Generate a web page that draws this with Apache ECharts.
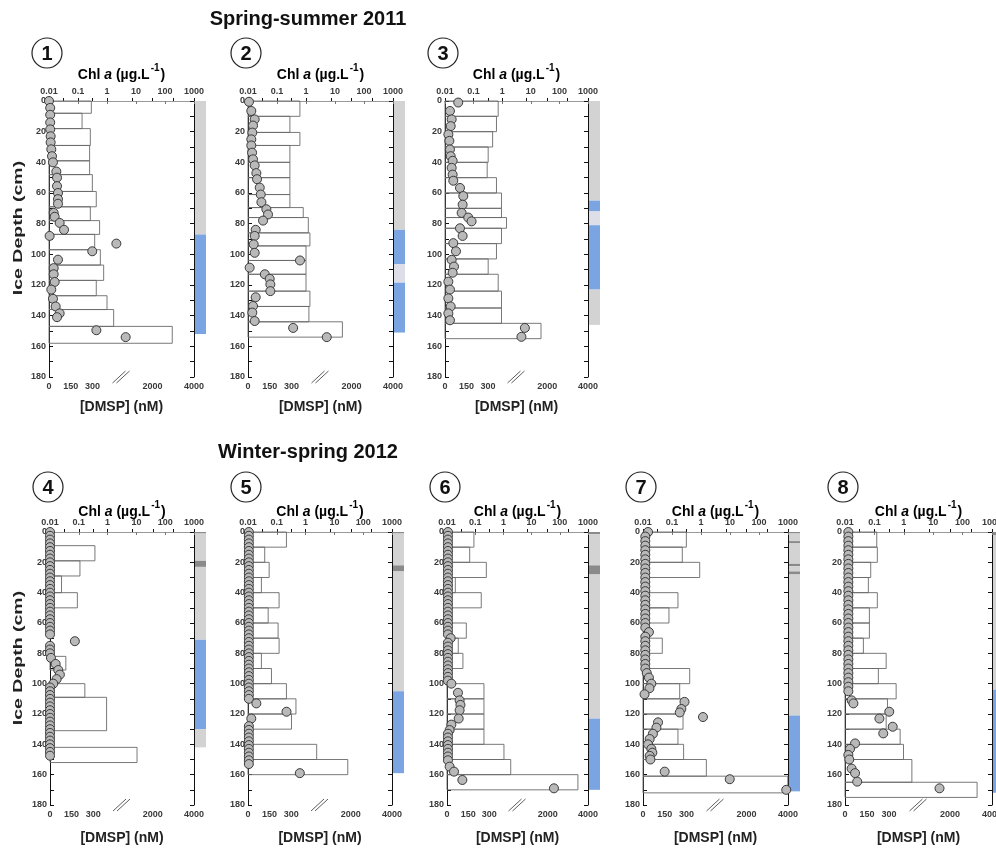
<!DOCTYPE html>
<html><head><meta charset="utf-8">
<script src="https://cdn.jsdelivr.net/npm/echarts@6/dist/echarts.min.js"></script>
<style>html,body{margin:0;padding:0;background:#fff}#c{width:996px;height:850px}</style>
</head><body><div id="c"></div>
<script>
// ================= DATA =================
const titles = ['Spring-summer 2011', 'Winter-spring 2012'];
const panelNumbers = ['1','2','3','4','5','6','7','8'];
const dmspLabelValues = [0, 150, 300, 2000, 4000];
const dmspTickValues = [0, 100, 200, 300, 400, 1000, 2000, 3000, 4000];
const dmspBreakValue = [500];
const depthMax = 180;

// Panel 1
const p1Depth = [0,4.5,9,14,18.5,23,27,31.5,36,40,46,50,55.5,60,64,67,73,75.5,79.5,84,88,93,98,103.5,109,113,118,123,129,134,138.5,141,149.5,154];
const p1Chl = [0.01,0.011,0.011,0.011,0.011,0.0114,0.0114,0.012,0.0127,0.0137,0.0179,0.0189,0.0189,0.0204,0.0204,0.0204,0.0145,0.0157,0.0233,0.033,0.0105,2.1,0.31,0.0204,0.0145,0.0145,0.0157,0.012,0.0137,0.017,0.0233,0.0189,0.43,4.4];
const p1SecTop = [0,8,18,29,39,48,59,69,78,87,97,107,117,127,136,147];
const p1SecBot = [8,18,29,39,48,59,69,78,87,97,107,117,127,136,147,158];
const p1Dmsp = [292,228,285,280,280,299,326,285,349,315,354,377,326,400,446,2950];
const p1IceTop = [0,87];
const p1IceBot = [87,152];
const p1IceType = ['granular','columnar'];

// Panel 2
const p2Depth = [0.5,6.5,12,16,20.6,25,29,33.7,38,42,47,51,56.5,61,66,70.6,74,78,84,88,93.5,99,104,108.7,113,116,119.6,124,128,133.7,138,143.5,148,154];
const p2Chl = [0.0108,0.013,0.017,0.0149,0.0141,0.013,0.013,0.0138,0.0149,0.017,0.0194,0.0205,0.0254,0.0275,0.029,0.043,0.049,0.033,0.0184,0.017,0.0157,0.017,0.62,0.0114,0.038,0.056,0.059,0.059,0.0184,0.0149,0.0141,0.017,0.36,5.2];
const p2SecTop = [0,10,20.5,29,40,50,61,69.5,76,86,94.5,104,113,124,134,144];
const p2SecBot = [10,20.5,29,40,50,61,69.5,76,86,94.5,104,113,124,134,144,154];
const p2Dmsp = [358,289,358,289,289,289,289,381,416,427,400,400,400,427,420,1557];
const p2IceTop = [0,84,106.5,118.5];
const p2IceBot = [84,106.5,118.5,151];
const p2IceType = ['granular','columnar','mixed','columnar'];

// Panel 3
const p3Depth = [1,6.5,12,16.4,21.8,26,31.6,36,39,43.6,48,52,56.7,62,67.6,73,76,78.5,83,88,92.7,98,103.6,108,112,117.8,123,128.7,134,138.5,143,148,153.8];
const p3Chl = [0.029,0.0149,0.0171,0.0158,0.0131,0.0142,0.0149,0.0158,0.0185,0.0171,0.0185,0.0195,0.0334,0.0436,0.0413,0.0382,0.065,0.085,0.0334,0.0413,0.0195,0.0242,0.0171,0.0206,0.0185,0.0131,0.0149,0.0131,0.0158,0.0131,0.0149,6.2,4.7];
const p3SecTop = [0,10,20,30,40,50,60,70,76,83,93,103,113,124,135,145];
const p3SecBot = [10,20,30,40,50,60,70,76,83,93,103,113,124,135,145,155];
const p3Dmsp = [372,360,333,302,295,360,395,395,430,395,360,302,372,395,395,1700];
const p3IceTop = [0,65,72,81,123];
const p3IceBot = [65,72,81,123,146];
const p3IceType = ['granular','columnar','mixed','columnar','granular'];

// Panel 4
const p4Depth = [0,2.5,5,7.5,10,12.5,15,17.5,20,22.5,25,27.5,30,32.5,35,37.5,40,42.5,45,47.5,50,52.5,55,57.5,60,62.5,65,67.5,72,75,77.5,80,83,87,91,94,97,100,102.5,105,107.5,110,112.5,115,117.5,120,122.5,125,127.5,130,132.5,135,137.5,140,142.5,145,147.5];
const p4Chl = [0.01,0.01,0.01,0.01,0.01,0.01,0.01,0.01,0.01,0.01,0.01,0.01,0.01,0.01,0.01,0.01,0.01,0.01,0.01,0.01,0.01,0.01,0.01,0.01,0.01,0.01,0.01,0.01,0.073,0.01,0.01,0.01,0.0108,0.0157,0.0194,0.022,0.017,0.013,0.01,0.01,0.01,0.01,0.01,0.01,0.01,0.01,0.01,0.01,0.01,0.01,0.01,0.01,0.01,0.01,0.01,0.01,0.01];
const p4SecTop = [9,19,29,40,82,100,109,142];
const p4SecBot = [19,29,40,50,91,109,131,152];
const p4Dmsp = [312,208,80,190,110,242,393,1230];
const p4IceTop = [0,1,19,23,71,130];
const p4IceBot = [1,19,23,71,130,142];
const p4IceType = ['dark','granular','dark','granular','columnar','granular'];

// Panel 5
const p5Depth = [0,2.5,5,7.5,10,12.5,15,17.5,20,22.5,25,27.5,30,32.5,35,37.5,40,42.5,45,47.5,50,52.5,55,57.5,60,62.5,65,67.5,70,72.5,75,77.5,80,82.5,85,87.5,90,92.5,95,97.5,100,102.5,105,107.5,110,113,118.5,123,128,130.5,133,135.5,138,140.5,143,145.5,148,150.5,153,159];
const p5Chl = [0.0107,0.0107,0.0107,0.0107,0.0107,0.0107,0.0107,0.0107,0.0107,0.0107,0.0107,0.0107,0.0107,0.0107,0.0107,0.0107,0.0107,0.0107,0.0107,0.0107,0.0107,0.0107,0.0107,0.0107,0.0107,0.0107,0.0107,0.0107,0.0107,0.0107,0.0107,0.0107,0.0107,0.0107,0.0107,0.0107,0.0107,0.0107,0.0107,0.0107,0.0107,0.0107,0.0107,0.0107,0.0107,0.0195,0.217,0.013,0.0107,0.0107,0.0107,0.0107,0.0107,0.0107,0.0107,0.0107,0.0107,0.0107,0.0107,0.63];
const p5SecTop = [0,10,20,30,40,50,60,70,80,90,100,110,120,140,150];
const p5SecBot = [10,20,30,40,50,60,70,80,90,100,110,120,130,150,160];
const p5Dmsp = [267,116,147,93,216,140,209,216,93,163,267,333,302,477,1850];
const p5IceTop = [0,1,22,26,105];
const p5IceBot = [1,22,26,105,159];
const p5IceType = ['dark','granular','dark','granular','columnar'];

// Panel 6
const p6Depth = [0,2.5,5,7.5,10,12.5,15,17.5,20,22.5,25,27.5,30,32.5,35,37.5,40,42.5,45,47.5,50,52.5,55,57.5,60,62.5,65,67.5,70,73,75.5,78,80.5,83,85.5,88,90.5,93,95.5,98,100,106,111,114,117.5,123,127,130.6,133,135.5,138,140.5,143,145.5,148,150.5,154.7,158,163.5,169];
const p6Chl = [0.0108,0.0108,0.0108,0.0108,0.0108,0.0108,0.0108,0.0108,0.0108,0.0108,0.0108,0.0108,0.0108,0.0108,0.0108,0.0108,0.0108,0.0108,0.0108,0.0108,0.0108,0.0108,0.0108,0.0108,0.0108,0.0108,0.0108,0.0108,0.0135,0.0108,0.0108,0.0108,0.0108,0.0108,0.0108,0.0108,0.0108,0.0108,0.0108,0.0108,0.0143,0.0245,0.028,0.03,0.028,0.026,0.0143,0.0124,0.0108,0.0108,0.0108,0.0108,0.0108,0.0108,0.0108,0.0108,0.0124,0.0177,0.035,62];
const p6SecTop = [0,10,20,30,40,60,70,80,100,110,120,130,140,150,160];
const p6SecBot = [10,20,30,40,50,70,80,90,110,120,130,140,150,160,170];
const p6Dmsp = [191,161,279,59,243,137,80,113,262,262,262,262,404,452,3500];
const p6IceTop = [0,1.5,22,28,123];
const p6IceBot = [1.5,22,28,123,170];
const p6IceType = ['dark','granular','dark','granular','columnar'];

// Panel 7
const p7Depth = [0,3,6,9,12,15,18,21,24,27,30,33,36,39,42,45,48,51,54,57,60,63,66,69,72,75,78,81,84,87,90,93,96,100,103,107,112,116.7,119,122,125.5,129,133,136.5,140,143,145.5,147.6,150,158,163,170];
const p7Chl = [0.0149,0.012,0.012,0.012,0.012,0.012,0.012,0.012,0.012,0.012,0.012,0.012,0.012,0.012,0.012,0.012,0.012,0.012,0.012,0.012,0.012,0.012,0.016,0.012,0.012,0.012,0.012,0.012,0.012,0.012,0.012,0.0135,0.016,0.0194,0.0167,0.0113,0.27,0.21,0.185,1.17,0.033,0.029,0.022,0.017,0.0149,0.0194,0.021,0.017,0.018,0.056,9.8,870];
const p7SecTop = [0,10,20,40,50,70,90,100,110,120,130,140,150,161];
const p7SecBot = [10,20,30,50,60,80,100,110,120,130,140,150,161,172];
const p7Dmsp = [299,271,391,241,179,133,322,253,276,276,241,280,437,3990];
const p7IceTop = [0,1,6,7.5,21,22.5,26,28,121];
const p7IceBot = [1,6,7.5,21,22.5,26,28,121,171];
const p7IceType = ['dark','granular','dark','granular','dark','granular','dark','granular','columnar'];

// Panel 8
const p8Depth = [0,3,6,9,12,15,18,21,24,27,30,33,36,39,42,45,48,51,54,57,60,63,66,69,72,75,78,81,84,87,90,93,96,99,102,105,111,113,118.5,123,128.4,132.8,139.4,143,147,150,156,159,164.6,169];
const p8Chl = [0.013,0.013,0.013,0.013,0.013,0.013,0.013,0.013,0.013,0.013,0.013,0.013,0.013,0.013,0.013,0.013,0.013,0.013,0.013,0.013,0.013,0.013,0.013,0.013,0.013,0.013,0.013,0.013,0.013,0.013,0.013,0.013,0.013,0.013,0.013,0.013,0.0168,0.0193,0.32,0.148,0.42,0.2,0.022,0.0148,0.013,0.014,0.0168,0.022,0.026,16.4];
const p8SecTop = [0,10,20,30,40,50,60,70,80,90,100,110,120,130,140,150,165];
const p8SecBot = [10,20,30,40,50,60,70,80,90,100,110,120,130,140,150,165,175];
const p8Dmsp = [216,220,175,159,220,166,166,125,280,227,348,289,280,375,398,455,3290];
const p8IceTop = [0,2,104];
const p8IceBot = [2,104,172];
const p8IceType = ['dark','granular','columnar'];

// ================= LAYOUT / STYLE =================
const FONT = "'Liberation Sans', Arial, Helvetica, sans-serif";
const iceColors = {granular:'#d3d3d3', columnar:'#7ba4e2', dark:'#8a8a8a', mixed:'#dedee8'};
const layout = [
  {l:49,  r:194, t:101, b:377, row:0},
  {l:248, r:393, t:101, b:377, row:0},
  {l:445, r:588, t:101, b:377, row:0},
  {l:50,  r:194, t:532, b:805, row:1},
  {l:248, r:392, t:532, b:805, row:1},
  {l:447, r:588, t:532, b:805, row:1},
  {l:643, r:788, t:532, b:805, row:1},
  {l:845, r:992, t:532, b:805, row:1}
];
const rowText = [
  {title:19, circle:53, chl:75, dmsp:407, depthY:228},
  {title:452, circle:487, chl:512, dmsp:838, depthY:658}
];

const panels = [
  {depth:p1Depth, chl:p1Chl, secTop:p1SecTop, secBot:p1SecBot, dmsp:p1Dmsp, iceTop:p1IceTop, iceBot:p1IceBot, iceType:p1IceType},
  {depth:p2Depth, chl:p2Chl, secTop:p2SecTop, secBot:p2SecBot, dmsp:p2Dmsp, iceTop:p2IceTop, iceBot:p2IceBot, iceType:p2IceType},
  {depth:p3Depth, chl:p3Chl, secTop:p3SecTop, secBot:p3SecBot, dmsp:p3Dmsp, iceTop:p3IceTop, iceBot:p3IceBot, iceType:p3IceType},
  {depth:p4Depth, chl:p4Chl, secTop:p4SecTop, secBot:p4SecBot, dmsp:p4Dmsp, iceTop:p4IceTop, iceBot:p4IceBot, iceType:p4IceType},
  {depth:p5Depth, chl:p5Chl, secTop:p5SecTop, secBot:p5SecBot, dmsp:p5Dmsp, iceTop:p5IceTop, iceBot:p5IceBot, iceType:p5IceType},
  {depth:p6Depth, chl:p6Chl, secTop:p6SecTop, secBot:p6SecBot, dmsp:p6Dmsp, iceTop:p6IceTop, iceBot:p6IceBot, iceType:p6IceType},
  {depth:p7Depth, chl:p7Chl, secTop:p7SecTop, secBot:p7SecBot, dmsp:p7Dmsp, iceTop:p7IceTop, iceBot:p7IceBot, iceType:p7IceType},
  {depth:p8Depth, chl:p8Chl, secTop:p8SecTop, secBot:p8SecBot, dmsp:p8Dmsp, iceTop:p8IceTop, iceBot:p8IceBot, iceType:p8IceType}
];

// broken DMSP axis: linear 0-500 on first half, 500-4000 on second half
function dmspPos(v) { return v <= 500 ? v : 500 + (v - 500) / 7; }
function dmspInv(p) { return Math.round(p <= 500 ? p : 500 + (p - 500) * 7); }
function fmtLog(v) { return v >= 1 ? String(Math.round(v)) : String(parseFloat(Number(v).toPrecision(2))); }

const labelStyle = {fontSize:9, fontWeight:'bold', color:'#3a3a3a', fontFamily:FONT};

const grids = [], xAxes = [], yAxes = [], series = [], graphics = [];

panels.forEach((pd, i) => {
  const L = layout[i];
  const gMain = grids.length;
  grids.push({left:L.l, top:L.t, width:L.r - L.l, height:L.b - L.t, containLabel:false, outerBoundsMode:'none'});
  const gBar = grids.length;
  grids.push({left:L.r + 1, top:L.t, width:11, height:L.b - L.t, containLabel:false, outerBoundsMode:'none'});

  const xD = xAxes.length;
  xAxes.push({
    type:'value', gridIndex:gMain, position:'bottom', min:0, max:1000,
    axisLine:{show:true, lineStyle:{color:'#111', width:1}},
    axisTick:{show:true, inside:true, length:3, customValues:dmspTickValues.map(dmspPos), lineStyle:{color:'#111'}},
    axisLabel:Object.assign({customValues:dmspLabelValues.map(dmspPos), formatter:v => String(dmspInv(v)), margin:5}, labelStyle),
    splitLine:{show:false}
  });
  const xL = xAxes.length;
  xAxes.push({
    type:'log', logBase:10, gridIndex:gMain, position:'top', min:0.01, max:1000, splitNumber:5,
    axisLine:{show:true, lineStyle:{color:'#999', width:1}},
    axisTick:{show:true, inside:true, length:3, lineStyle:{color:'#777'}},
    axisLabel:Object.assign({formatter:fmtLog, margin:5, showMinLabel:true, showMaxLabel:true}, labelStyle),
    splitLine:{show:false}
  });
  const xB = xAxes.length;
  xAxes.push({type:'value', gridIndex:gBar, min:0, max:1, show:false});

  const yLft = yAxes.length;
  yAxes.push({
    type:'value', gridIndex:gMain, position:'left', inverse:true, min:0, max:depthMax, interval:10,
    axisLine:{show:true, lineStyle:{color:'#111'}},
    axisTick:{show:true, inside:true, length:4, lineStyle:{color:'#111'}},
    axisLabel:Object.assign({formatter:v => (v % 20 === 0 ? String(v) : ''), margin:3}, labelStyle),
    splitLine:{show:false}
  });
  yAxes.push({
    type:'value', gridIndex:gMain, position:'right', inverse:true, min:0, max:depthMax, interval:10,
    axisLine:{show:true, lineStyle:{color:'#111'}},
    axisTick:{show:true, inside:true, length:4, lineStyle:{color:'#111'}},
    axisLabel:{show:false}, splitLine:{show:false}
  });
  const yB = yAxes.length;
  yAxes.push({type:'value', gridIndex:gBar, inverse:true, min:0, max:depthMax, show:false});

  // DMSP section boxes
  series.push({
    type:'custom', xAxisIndex:xD, yAxisIndex:yLft, z:2, silent:true,
    data: pd.secTop.map((t, k) => [t, pd.secBot[k], dmspPos(pd.dmsp[k])]),
    encode:{x:2, y:[0,1]},
    renderItem:(params, api) => {
      const a = api.coord([0, api.value(0)]);
      const b = api.coord([api.value(2), api.value(1)]);
      return {type:'rect', shape:{x:a[0], y:a[1], width:b[0]-a[0], height:b[1]-a[1]},
        style:{fill:'rgba(255,255,255,0)', stroke:'#6a6a6a', lineWidth:0.9}};
    }
  });
  // axis break mark
  series.push({
    type:'custom', xAxisIndex:xD, yAxisIndex:yLft, z:5, silent:true, clip:false,
    data: dmspBreakValue.map(v => [v, depthMax]),
    encode:{x:0, y:1},
    renderItem:(params, api) => {
      const p = api.coord([api.value(0), api.value(1)]);
      const x = p[0], y = p[1];
      return {type:'group', children:[
        {type:'polygon', shape:{points:[[x-8,y+6],[x-4,y+6],[x+8,y-6],[x+4,y-6]]}, style:{fill:'#fff'}},
        {type:'line', shape:{x1:x-9, y1:y+6, x2:x+4, y2:y-6}, style:{stroke:'#333', lineWidth:0.8}},
        {type:'line', shape:{x1:x-5, y1:y+6, x2:x+8, y2:y-6}, style:{stroke:'#333', lineWidth:0.8}}
      ]};
    }
  });
  // Chl a circles
  series.push({
    type:'scatter', xAxisIndex:xL, yAxisIndex:yLft, z:4, silent:true, clip:false,
    symbol:'circle', symbolSize:9,
    itemStyle:{color:'#b9b9b9', borderColor:'#3a3a3a', borderWidth:1, opacity:1},
    data: pd.chl.map((c, k) => [c, pd.depth[k]])
  });
  // ice texture bar
  series.push({
    type:'custom', xAxisIndex:xB, yAxisIndex:yB, z:2, silent:true, clip:false,
    data: pd.iceTop.map((t, k) => [t, pd.iceBot[k]]),
    encode:{y:[0,1]},
    renderItem:(params, api) => {
      const a = api.coord([0, api.value(0)]);
      const b = api.coord([1, api.value(1)]);
      return {type:'rect', shape:{x:a[0], y:a[1], width:b[0]-a[0], height:b[1]-a[1]},
        style:{fill:iceColors[pd.iceType[params.dataIndex]]}};
    }
  });

  // texts
  const R = rowText[L.row];
  const cx = (L.l + L.r) / 2;
  graphics.push({type:'circle', shape:{cx:L.l - 2, cy:R.circle, r:15}, style:{fill:'none', stroke:'#222', lineWidth:1.2}});
  graphics.push({type:'text', x:L.l - 2, y:R.circle + 1, style:{text:panelNumbers[i], fontSize:20, fontWeight:'bold', fontFamily:FONT, fill:'#111', align:'center', verticalAlign:'middle', textAlign:'center', textVerticalAlign:'middle'}});
  graphics.push({type:'text', x:cx, y:R.chl, style:{
    text:'{n|Chl }{i|a}{n| (µg.L}{s|-1}{n|)}',
    rich:{
      n:{fontSize:14, fontWeight:'bold', fontFamily:FONT, color:'#222'},
      i:{fontSize:14, fontWeight:'bold', fontStyle:'italic', fontFamily:FONT, color:'#222'},
      s:{fontSize:10, fontWeight:'bold', fontFamily:FONT, color:'#222', padding:[0,1,14,1]}
    },
    align:'center', verticalAlign:'middle', textAlign:'center', textVerticalAlign:'middle'}});
  graphics.push({type:'text', x:cx, y:R.dmsp, style:{text:'[DMSP] (nM)', fontSize:14, fontWeight:'bold', fontFamily:FONT, fill:'#222', align:'center', verticalAlign:'middle', textAlign:'center', textVerticalAlign:'middle'}});
});

rowText.forEach((R, r) => {
  graphics.push({type:'text', x:308, y:R.title, style:{text:titles[r], fontSize:20, fontWeight:'bold', fontFamily:FONT, fill:'#111', align:'center', verticalAlign:'middle', textAlign:'center', textVerticalAlign:'middle'}});
  graphics.push({type:'text', x:18, y:R.depthY, rotation:Math.PI/2, scaleX:1.5, style:{text:'Ice Depth (cm)', fontSize:13, fontWeight:'bold', fontFamily:FONT, fill:'#222', align:'center', verticalAlign:'middle', textAlign:'center', textVerticalAlign:'middle'}});
});

const chart = echarts.init(document.getElementById('c'), null, {renderer:'canvas'});
chart.setOption({
  animation:false,
  backgroundColor:'#fff',
  grid:grids, xAxis:xAxes, yAxis:yAxes, series:series,
  graphic:{elements:graphics}
});
</script></body></html>
